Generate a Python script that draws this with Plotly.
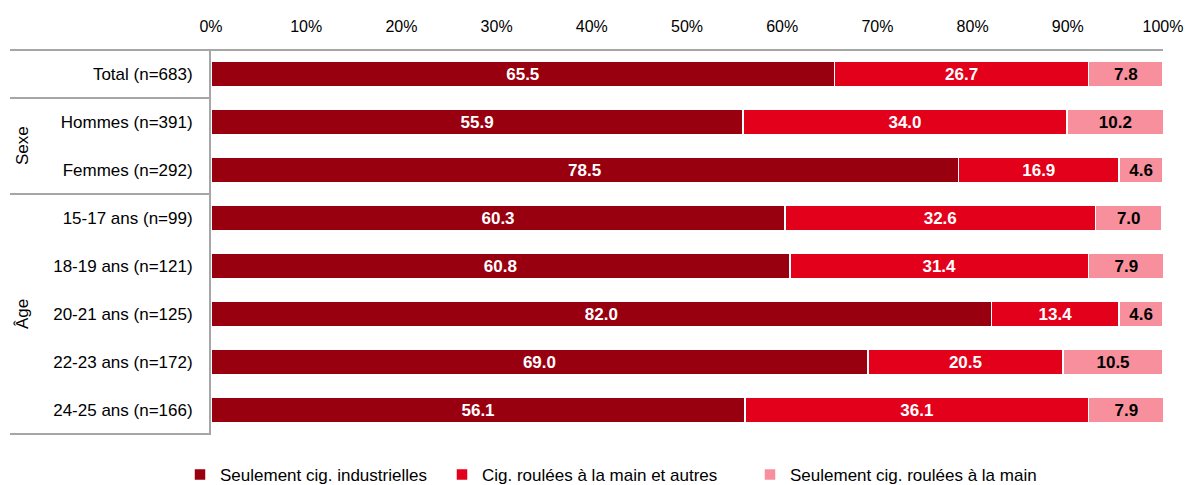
import plotly.graph_objects as go

categories = ["Total (n=683)", "Hommes (n=391)", "Femmes (n=292)", "15-17 ans (n=99)",
              "18-19 ans (n=121)", "20-21 ans (n=125)", "22-23 ans (n=172)", "24-25 ans (n=166)"]
industrielles = [65.5, 55.9, 78.5, 60.3, 60.8, 82.0, 69.0, 56.1]
roulees_autres = [26.7, 34.0, 16.9, 32.6, 31.4, 13.4, 20.5, 36.1]
roulees_seul = [7.8, 10.2, 4.6, 7.0, 7.9, 4.6, 10.5, 7.9]
series_names = ["Seulement cig. industrielles", "Cig. roulées à la main et autres",
                "Seulement cig. roulées à la main"]
groups = ["Sexe", "Âge"]
xticks = [0, 10, 20, 30, 40, 50, 60, 70, 80, 90, 100]

FONT = "Liberation Sans, Arial, sans-serif"
colors = ["#99000F", "#E3001B", "#F7909C"]
textcolors = ["white", "white", "black"]
legend_ids = ["legend", "legend2", "legend3"]
legend_x_px = [180, 442, 750]

fig = go.Figure()
for name, vals, c, tc, lg in zip(series_names, [industrielles, roulees_autres, roulees_seul],
                                 colors, textcolors, legend_ids):
    fig.add_trace(go.Bar(
        y=categories, x=vals, name=name, orientation="h", legend=lg,
        marker=dict(color=c, line=dict(color="white", width=1.5)),
        texttemplate="<b>%{x:.1f}</b>", textposition="inside",
        insidetextanchor="middle", textangle=0,
        textfont=dict(color=tc, size=17, family=FONT),
        hoverinfo="skip",
    ))

gray = "#A6A6A6"
PL, PR, PT, PB = 211, 1163, 50, 434
pw, ph = PR - PL, PB - PT

legends = {}
for lg, xp in zip(legend_ids, legend_x_px):
    legends[lg] = dict(orientation="h", x=(xp - PL) / pw, xanchor="left",
                       y=(PB - 475) / ph, yanchor="middle",
                       font=dict(size=17), bgcolor="rgba(0,0,0,0)",
                       itemwidth=30, visible=True)

fig.update_layout(
    barmode="stack", bargap=0.46,
    width=1186, height=485,
    margin=dict(l=PL, r=1186 - PR, t=PT, b=485 - PB, autoexpand=False),
    paper_bgcolor="white", plot_bgcolor="white",
    font=dict(family=FONT, size=17, color="black"),
    uniformtext=dict(minsize=10, mode="show"),
    showlegend=True,
    xaxis=dict(side="top", range=[0, 100], tickvals=xticks, automargin=False,
               ticktext=[f"{v}%" for v in xticks], showgrid=False,
               zeroline=False, showline=False, ticks="", tickfont=dict(size=16),
               ticklabelstandoff=14),
    yaxis=dict(autorange="reversed", showgrid=False, zeroline=False, automargin=False,
               showline=True, linecolor=gray, linewidth=2, ticks="",
               ticklabelstandoff=13, tickfont=dict(size=17)),
    **legends,
)

x0 = (10 - PL) / pw
fig.add_shape(type="line", xref="paper", yref="paper", x0=x0, x1=1, y0=1, y1=1,
              line=dict(color=gray, width=2))
fig.add_shape(type="line", xref="paper", yref="paper", x0=x0, x1=0, y0=0, y1=0,
              line=dict(color=gray, width=2))
for yv in [0.5, 2.5]:
    fig.add_shape(type="line", xref="paper", yref="y", x0=x0, x1=0, y0=yv, y1=yv,
                  line=dict(color=gray, width=2))

xg = (22 - PL) / pw
fig.add_annotation(text=groups[0], xref="paper", yref="y", x=xg, y=1.5, textangle=-90,
                   xanchor="center", yanchor="middle",
                   showarrow=False, font=dict(size=17))
fig.add_annotation(text=groups[1], xref="paper", yref="y", x=xg, y=5, textangle=-90,
                   xanchor="center", yanchor="middle",
                   showarrow=False, font=dict(size=17))

fig.write_html("out.html", config={"displayModeBar": False},
               post_script="document.body.style.margin='0';")
